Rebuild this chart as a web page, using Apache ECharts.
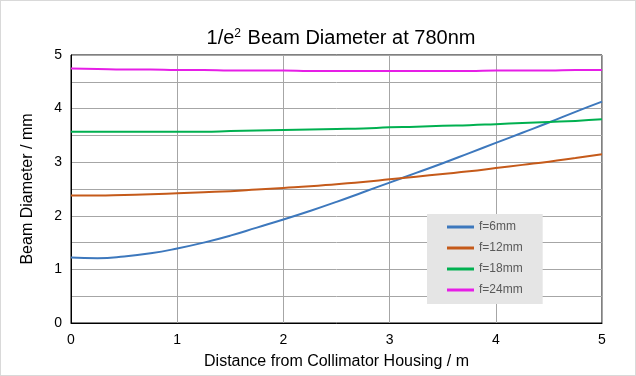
<!DOCTYPE html>
<html>
<head>
<meta charset="utf-8">
<script src="https://cdn.jsdelivr.net/npm/echarts@6/dist/echarts.min.js"></script>
<style>
  html, body { margin: 0; padding: 0; background: #fff; }
  #main { width: 634px; height: 374px; border: 1px solid #d9d9d9; }
</style>
</head>
<body>
<div id="main"></div>
<script>
// distance from collimator housing (m)
var distance = [0, 0.25, 0.5, 0.75, 1, 1.25, 1.5, 1.75, 2, 2.25, 2.5, 2.75, 3, 3.25, 3.5, 3.75, 4, 4.25, 4.5, 4.75, 5];
// beam diameter (mm) per focal length
var f6 = [1.22, 1.21, 1.24, 1.30, 1.39, 1.50, 1.63, 1.78, 1.93, 2.09, 2.26, 2.44, 2.62, 2.80, 2.98, 3.17, 3.36, 3.55, 3.74, 3.94, 4.13];
var f12 = [2.38, 2.38, 2.39, 2.40, 2.42, 2.44, 2.46, 2.49, 2.52, 2.55, 2.59, 2.63, 2.68, 2.73, 2.78, 2.83, 2.89, 2.95, 3.01, 3.08, 3.15];
var f18 = [3.57, 3.57, 3.57, 3.57, 3.57, 3.57, 3.58, 3.59, 3.60, 3.61, 3.62, 3.63, 3.65, 3.66, 3.68, 3.69, 3.71, 3.73, 3.75, 3.77, 3.80];
var f24 = [4.75, 4.74, 4.73, 4.73, 4.72, 4.72, 4.71, 4.71, 4.71, 4.70, 4.70, 4.70, 4.70, 4.70, 4.70, 4.70, 4.71, 4.71, 4.71, 4.72, 4.72];
var seriesNames = ["f=6mm", "f=12mm", "f=18mm", "f=24mm"];
var colors = ["#3d78bd", "#c55a1a", "#00b050", "#e61ee6"];

function pairs(ys) {
  return ys.map(function(y, i) {
    return [distance[i], y];
  });
}

var chart = echarts.init(document.getElementById("main"));
var fontFamily = "Liberation Sans, Arial, sans-serif";
chart.setOption({
  animation: false,
  color: colors,
  textStyle: { fontFamily: fontFamily },
  title: {
    text: "1/e{sup|2} Beam Diameter at 780nm",
    left: 335,
    textAlign: "center",
    top: 22,
    textStyle: {
      fontSize: 20,
      fontWeight: "normal",
      color: "#000",
      fontFamily: fontFamily,
      rich: {
        sup: { fontSize: 12, verticalAlign: "top", padding: [0, 1, 9, 0], color: "#000", fontFamily: fontFamily }
      }
    }
  },
  grid: {
    left: 70,
    right: 33,
    top: 54,
    bottom: 51,
    show: true,
    borderColor: "#000",
    borderWidth: 1
  },
  legend: {
    orient: "vertical",
    left: 426,
    top: 213,
    width: 115,
    padding: [7, 20, 8, 20],
    backgroundColor: "#e5e5e5",
    icon: "rect",
    itemWidth: 27,
    itemHeight: 3,
    itemGap: 9,
    textStyle: { color: "#595959", fontSize: 12, fontFamily: fontFamily },
    data: seriesNames
  },
  xAxis: {
    type: "value",
    min: 0,
    max: 5,
    interval: 1,
    name: "Distance from Collimator Housing / m",
    nameLocation: "middle",
    nameGap: 31,
    nameTextStyle: { fontSize: 16, color: "#000", fontFamily: fontFamily },
    axisLine: { lineStyle: { color: "#000" } },
    axisTick: { show: false },
    axisLabel: { color: "#000", fontSize: 14, margin: 10 },
    splitLine: { show: true, lineStyle: { color: "#a6a6a6" } }
  },
  yAxis: {
    type: "value",
    min: 0,
    max: 5,
    interval: 1,
    name: "Beam Diameter / mm",
    nameLocation: "middle",
    nameGap: 35,
    nameTextStyle: { fontSize: 16, color: "#000", fontFamily: fontFamily },
    axisLine: { show: true, lineStyle: { color: "#000" } },
    axisTick: { show: false },
    axisLabel: { color: "#000", fontSize: 14, margin: 9 },
    splitLine: { show: true, lineStyle: { color: "#a6a6a6" } },
    minorTick: { show: false, splitNumber: 2 },
    minorSplitLine: { show: true, lineStyle: { color: "#a6a6a6" } }
  },
  series: [f6, f12, f18, f24].map(function(d, i) {
    return {
      name: seriesNames[i],
      type: "line",
      smooth: true,
      symbol: "none",
      lineStyle: { width: 2 },
      data: pairs(d)
    };
  })
});
</script>
</body>
</html>
